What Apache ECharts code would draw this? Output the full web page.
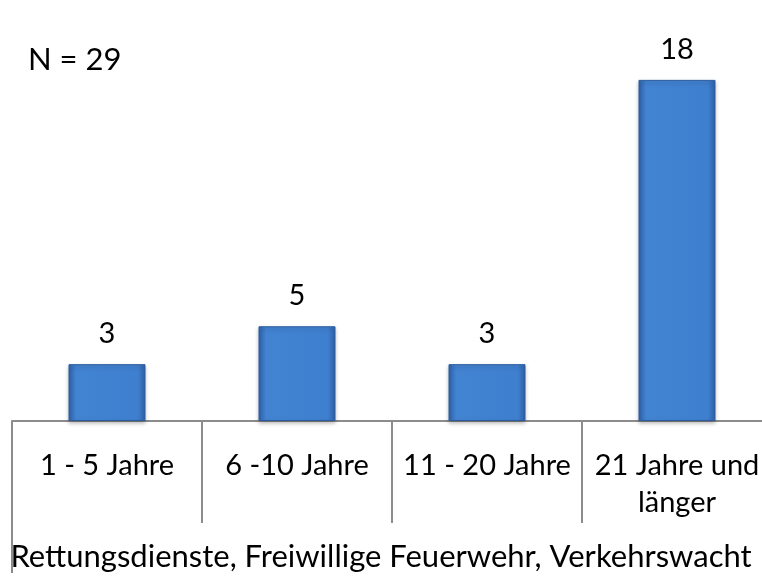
<!DOCTYPE html>
<html>
<head>
<meta charset="utf-8">
<script src="https://cdn.jsdelivr.net/npm/echarts@6/dist/echarts.min.js"></script>
<style>
  html, body { margin: 0; padding: 0; background: #fff; }
  #chart { width: 762px; height: 579px; }
</style>
</head>
<body>
<div id="chart"></div>
<script>
// Dienstjahre in Rettungsdiensten etc.
const categories = ['1 - 5 Jahre', '6 -10 Jahre', '11 - 20 Jahre', '21 Jahre und\nlänger'];
const counts = [3, 5, 3, 18];
const sampleText = 'N = 29';
const axisTitle = 'Rettungsdienste, Freiwillige Feuerwehr, Verkehrswacht';

const font = 'Lato, "Open Sans", sans-serif';
const chart = echarts.init(document.getElementById('chart'));

const barColor = new echarts.graphic.LinearGradient(0, 0, 1, 0, [
    { offset: 0, color: '#2f62a8' },
    { offset: 0.1, color: '#4283d2' },
    { offset: 0.9, color: '#3f7fcf' },
    { offset: 1, color: '#2f62a8' }
]);

const option = {
    animation: false,
    title: [
        { text: sampleText, left: 23, top: 39,
          textStyle: { fontFamily: font, fontSize: 31, fontWeight: 'normal', color: '#000' } },
        { text: axisTitle, left: 'center', top: 536,
          textStyle: { fontFamily: font, fontSize: 31, fontWeight: 'normal', color: '#000' } }
    ],
    grid: { left: 12, width: 760, top: 42, bottom: 158, outerBoundsMode: 'none', containLabel: false },
    xAxis: [
        {
            type: 'category',
            data: categories,
            axisLine: { lineStyle: { color: '#8c8c8c', width: 2 } },
            axisTick: { show: true, length: 102, lineStyle: { color: '#8c8c8c', width: 2 } },
            axisLabel: { color: '#000', fontFamily: font, fontSize: 29, margin: 26, lineHeight: 37, interval: 0 }
        },
        {
            type: 'category',
            data: categories,
            position: 'bottom',
            axisLine: { show: false },
            axisLabel: { show: false },
            axisTick: { show: true, length: 152, interval: (i) => i === 0, lineStyle: { color: '#8c8c8c', width: 2 } }
        }
    ],
    yAxis: { type: 'value', min: 0, max: 20, show: false, splitLine: { show: false } },
    series: [{
        type: 'bar',
        data: counts,
        barWidth: 77,
        itemStyle: {
            color: barColor,
            borderColor: '#2c5c9e',
            borderWidth: 1,
            shadowColor: 'rgba(0,0,0,0.25)',
            shadowBlur: 4,
            shadowOffsetY: 2
        },
        label: {
            show: true, position: 'top', distance: 16,
            color: '#000', fontFamily: font, fontSize: 29
        }
    }]
};

chart.setOption(option);
</script>
</body>
</html>
